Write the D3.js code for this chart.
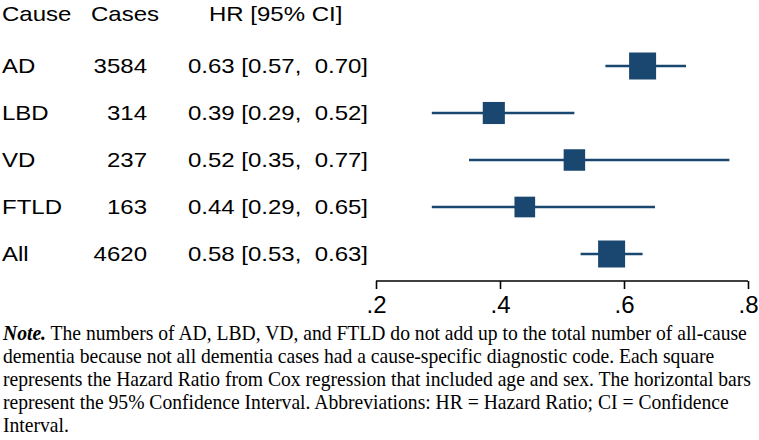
<!DOCTYPE html>
<html>
<head>
<meta charset="utf-8">
<script src="https://cdn.jsdelivr.net/npm/d3@7"></script>
<style>
  html, body { margin: 0; padding: 0; background: #fff; }
  svg { display: block; }
</style>
</head>
<body>
<svg id="chart" width="759" height="440"></svg>
<script>
// ---- data ----
const causes = ["AD", "LBD", "VD", "FTLD", "All"];
const cases = [3584, 314, 237, 163, 4620];
const hr = [0.63, 0.39, 0.52, 0.44, 0.58];
const ciLow = [0.57, 0.29, 0.35, 0.29, 0.53];
const ciHigh = [0.70, 0.52, 0.77, 0.65, 0.63];
const headers = ["Cause", "Cases", "HR [95% CI]"];
const xTicks = [0.2, 0.4, 0.6, 0.8];
const noteLines = [
  [{t: "Note.", b: true}, {t: " The numbers of AD, LBD, VD, and FTLD do not add up to the total number of all-cause"}],
  [{t: "dementia because not all dementia cases had a cause-specific diagnostic code. Each square"}],
  [{t: "represents the Hazard Ratio from Cox regression that included age and sex. The horizontal bars"}],
  [{t: "represent the 95% Confidence Interval. Abbreviations: HR = Hazard Ratio; CI = Confidence"}],
  [{t: "Interval."}]
];

const rows = causes.map((c, i) => ({cause: c, cases: cases[i], hr: hr[i], lo: ciLow[i], hi: ciHigh[i]}));

const svg = d3.select("#chart");
const color = "#1a476f";
const sans = "'Liberation Sans', Arial, sans-serif";
const serif = "'Liberation Serif', 'Times New Roman', serif";

const x = d3.scaleLinear().domain([0.2, 0.8]).range([376, 748]);
const y = d3.scalePoint().domain(causes).range([66, 254]);
const size = d3.scaleLog().domain([150, 3000]).range([20.5, 27]).clamp(true);

// horizontal stretch helper (scale about anchor x)
function stretch(sel, s) {
  sel.each(function() {
    const ax = +this.getAttribute("x");
    this.setAttribute("transform", `translate(${ax * (1 - s)},0) scale(${s},1)`);
  });
}
const fmt = d3.format(".2f");
const sx = 1.2;

// ---- table header ----
const headerX = [2, 91, 209];
const hdr = svg.append("g").selectAll("text").data(headers).join("text")
  .attr("x", (d, i) => headerX[i]).attr("y", 21)
  .attr("font-family", sans).attr("font-size", 20).attr("fill", "#000")
  .text(d => d);
stretch(hdr, sx);

// ---- table rows ----
const tg = svg.append("g");
const c1 = tg.selectAll("text.cause").data(rows).join("text").attr("class", "cause")
  .attr("x", 2).attr("y", d => y(d.cause) + 7)
  .attr("font-family", sans).attr("font-size", 20).text(d => d.cause);
stretch(c1, sx);
const c2 = tg.selectAll("text.cases").data(rows).join("text").attr("class", "cases")
  .attr("x", 147).attr("y", d => y(d.cause) + 7).attr("text-anchor", "end")
  .attr("font-family", sans).attr("font-size", 20).text(d => d.cases);
stretch(c2, sx);
const c3 = tg.selectAll("text.hr").data(rows).join("text").attr("class", "hr")
  .attr("x", 188).attr("y", d => y(d.cause) + 7)
  .style("white-space", "pre")
  .attr("font-family", sans).attr("font-size", 20)
  .text(d => `${fmt(d.hr)} [${fmt(d.lo)},  ${fmt(d.hi)}]`);
stretch(c3, sx);

// ---- CI lines and squares ----
const pg = svg.append("g");
pg.selectAll("line.ci").data(rows).join("line").attr("class", "ci")
  .attr("x1", d => x(d.lo)).attr("x2", d => x(d.hi))
  .attr("y1", d => y(d.cause)).attr("y2", d => y(d.cause))
  .attr("stroke", color).attr("stroke-width", 2.4);
pg.selectAll("rect.sq").data(rows).join("rect").attr("class", "sq")
  .attr("x", d => x(d.hr) - size(d.cases) / 2)
  .attr("y", d => y(d.cause) - size(d.cases) / 2)
  .attr("width", d => size(d.cases)).attr("height", d => size(d.cases))
  .attr("fill", color);

// ---- axis ----
const axisG = svg.append("g").attr("transform", "translate(0,281)")
  .call(d3.axisBottom(x).tickValues(xTicks).tickSize(8).tickPadding(6)
    .tickFormat(d => d3.format(".1f")(d).replace(/^0/, "")));
axisG.select(".domain").attr("stroke", "#000").attr("stroke-width", 1.6)
  .attr("d", `M${x.range()[0]},0H${x.range()[1]}`);
axisG.selectAll(".tick line").attr("stroke", "#000").attr("stroke-width", 1.6);
axisG.selectAll(".tick text").attr("font-family", sans).attr("font-size", 24).attr("fill", "#000")
  .attr("dy", null).attr("y", 32);

// ---- note ----
const ng = svg.append("g");
const noteTexts = [];
noteLines.forEach((segs, i) => {
  const t = ng.append("text").attr("x", 3).attr("y", 340 + i * 23)
    .attr("font-family", serif).attr("font-size", 20).attr("fill", "#000")
    .style("white-space", "pre");
  segs.forEach(s => {
    const ts = t.append("tspan").text(s.t);
    if (s.b) ts.attr("font-weight", "bold").attr("font-style", "italic");
  });
  noteTexts.push(t);
});
// fit the first line to the reference wrap width, use same factor for all lines
const w0 = noteTexts[0].node().getComputedTextLength();
const ns = 744 / w0;
noteTexts.forEach(t => stretch(t, ns));
</script>
</body>
</html>
